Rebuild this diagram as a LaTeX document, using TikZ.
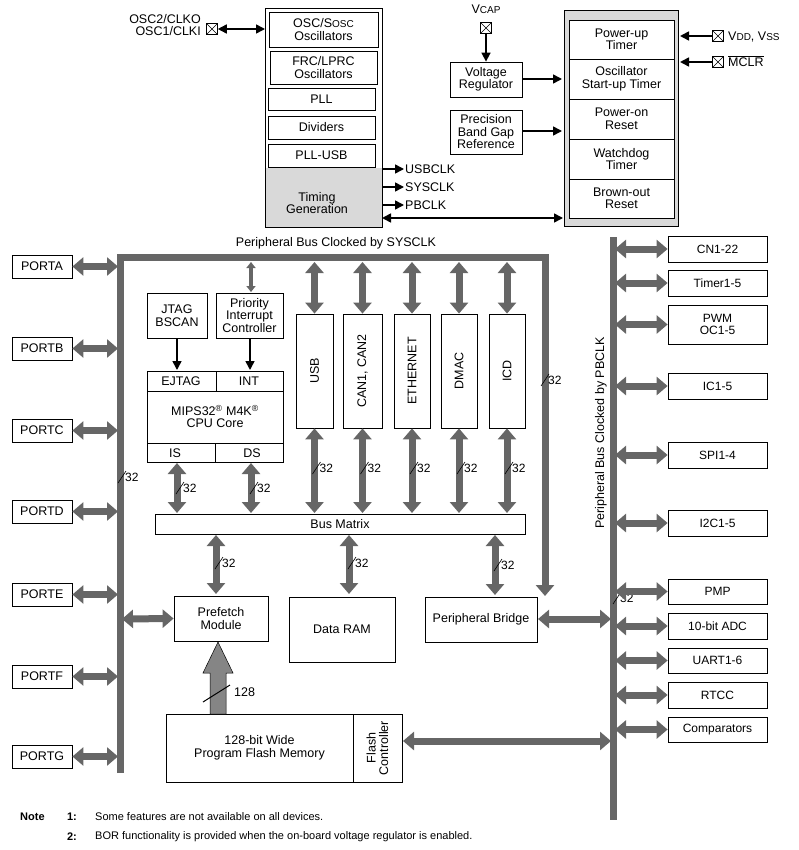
\documentclass[tikz,border=0pt]{standalone}
\usepackage{fontspec}
\setmainfont{Liberation Sans}
\usetikzlibrary{arrows.meta}
\definecolor{busg}{HTML}{666666}
\definecolor{lightg}{HTML}{D9D9D9}
\newcommand\pbox[7][]{\node[box,#1,minimum width={(#5-#3)*1pt},minimum height={(#6-#4)*1pt}] (#2) at ({(#3+#5)/2},{(#4+#6)/2}) {#7};}
\newcommand\wmark[3]{\draw[line width=0.6pt] (#1-4,#2+6) -- (#1+4,#2-6); \node[anchor=west,font=\fontsize{12}{13}\selectfont,inner sep=1pt] at (#1+2,#2) {#3};}
\begin{document}
\begin{tikzpicture}[x=1pt,y=-1pt,
  box/.style={draw,line width=0.8pt,fill=white,align=center,inner sep=0pt,font=\fontsize{12.5}{12.5}\selectfont},
  bus/.style={draw=busg,line width=7pt,{Triangle[length=11pt,width=18pt]}-{Triangle[length=11pt,width=18pt]}},
  busline/.style={draw=busg,line width=7pt},
  arr/.style={line width=1.6pt,-{Triangle[length=9pt,width=9pt]}},
  darr/.style={line width=1.6pt,{Triangle[length=9pt,width=9pt]}-{Triangle[length=9pt,width=9pt]}},
  lbl/.style={font=\fontsize{12.5}{12.5}\selectfont,inner sep=1pt},
  xb/.style={draw,line width=0.6pt,minimum size=11pt,inner sep=0pt,path picture={\draw (path picture bounding box.north west)--(path picture bounding box.south east) (path picture bounding box.north east)--(path picture bounding box.south west);}}]
\useasboundingbox (0,0) rectangle (798,850);
% ---------- clock block
\fill[lightg] (265,168) rectangle (382,227);
\draw[line width=0.8pt] (265,8) rectangle (382,227);
\pbox{osc}{269}{12}{378}{47}{OSC/S{\fontsize{10}{10}\selectfont OSC}\\Oscillators}
\pbox{frc}{270}{51}{377}{84}{FRC/LPRC\\Oscillators}
\pbox{pll}{268}{88}{375}{110}{PLL}
\pbox{div}{268}{116}{375}{139}{Dividers}
\pbox{pllusb}{268}{144}{375}{167}{PLL-USB}
\node[lbl,align=center] (timing) at (317,203) {Timing\\Generation};
\node[lbl,align=right,anchor=east] (osclbl) at (202,25) {OSC2/CLKO\\OSC1/CLKI};
\node[xb] (oscx) at (212,29) {};
\coordinate (osct) at (265,29);
\draw[darr] (oscx.east) -- (osct);
\node[lbl,anchor=west] (usbclk) at (404,169) {USBCLK};
\node[lbl,anchor=west] (sysclk) at (404,187) {SYSCLK};
\node[lbl,anchor=west] (pbclk) at (404,205) {PBCLK};
\draw[arr] (382,169) -- (usbclk.west);
\draw[arr] (382,187) -- (sysclk.west);
\draw[arr] (382,205) -- (pbclk.west);
% ---------- reset block
\fill[lightg,draw=black,line width=0.8pt] (564,10) rectangle (678,226);
\pbox{pwrt}{569}{20}{674}{59}{Power-up\\Timer}
\pbox{ost}{569}{59}{674}{99}{Oscillator\\Start-up Timer}
\pbox{por}{569}{99}{674}{139}{Power-on\\Reset}
\pbox{wdt}{569}{139}{674}{179}{Watchdog\\Timer}
\pbox{bor}{569}{179}{674}{218}{Brown-out\\Reset}
\coordinate (rl) at (563,218);
\draw[darr] (382,218) -- (rl);
\node[xb] (vddx) at (718,36) {};
\node[lbl,anchor=west] (vdd) at (727,37) {V{\fontsize{10}{10}\selectfont DD}, V{\fontsize{10}{10}\selectfont SS}};
\draw[arr] (vddx.west) -- (680,36);
\node[xb] (mclrx) at (718,62) {};
\node[lbl,anchor=west] (mclr) at (727,61) {$\overline{\mbox{MCLR}}$};
\draw[arr] (mclrx.west) -- (680,62);
\node[lbl] (vcap) at (486,9) {V{\fontsize{10}{10}\selectfont CAP}};
\node[xb] (vcapx) at (486,28) {};
\pbox{vreg}{450}{62}{522}{97}{Voltage\\Regulator}
\draw[arr] (vcapx.south) -- (vreg.north -| vcapx);
\draw[arr] (522,79) -- (562,79);
\pbox{bgap}{450}{110}{522}{154}{Precision\\Band Gap\\Reference}
\draw[arr] (522,131) -- (562,131);
% ---------- SYSCLK bus frame
\node[lbl] (sysbus) at (336,243) {Peripheral Bus Clocked by SYSCLK};
\coordinate (fa) at (120,773);
\coordinate (fb) at (120,257);
\coordinate (fc) at (545,257);
\pbox{bridge}{425}{597}{537}{642}{Peripheral Bridge}
\draw[draw=busg,line width=7pt,-{Triangle[length=11pt,width=18pt]}] (fa) -- (fb) -- (fc) -- (545,596);
\wmark{122}{477}{32}
\wmark{545}{380}{32}
% ports
\foreach \n/\y in {A/266.5,B/348.5,C/430.5,D/511.5,E/594.5,F/676.5,G/756.5}{
  \node[box,minimum width=60pt,minimum height=23pt] (port\n) at (42,\y) {PORT\n};
  \draw[bus] (port\n.east) -- (118,\y);
}
% CPU
\pbox{jtag}{147}{293}{207}{338}{JTAG\\BSCAN}
\pbox{pic}{216}{293}{283}{338}{Priority\\Interrupt\\Controller}
\pbox{cpu}{147}{371}{283}{462}{MIPS32\textsuperscript{\textregistered} M4K\textsuperscript{\textregistered}\\CPU Core}
\draw[line width=0.8pt] (147,391) -- (283,391) (216,371) -- (216,391) (147,443) -- (283,443) (215,443) -- (215,462);
\node[lbl] (ejtag) at (181,381) {EJTAG};
\node[lbl] (int) at (249,381) {INT};
\node[lbl] (is) at (175,453) {IS};
\node[lbl] (ds) at (252,453) {DS};
\draw[arr] (177,338) -- (177,370);
\draw[arr] (250,338) -- (250,370);
\draw[draw=busg,line width=3.5pt,{Triangle[length=6pt,width=9pt]}-{Triangle[length=6pt,width=9pt]}] (251,262) -- (251,292);
\pbox{bm}{155}{514}{525}{534}{Bus Matrix}
\draw[bus] (177,463) -- (177,513);
\draw[bus] (251,463) -- (251,513);
\wmark{180}{488}{32}
\wmark{254}{488}{32}
\foreach \n/\a/\b/\t in {usb/296/333/USB,can/343/382/{CAN1, CAN2},eth/394/430/ETHERNET,dmac/441/477/DMAC,icd/489/525/ICD}{
  \pgfmathsetmacro\c{(\a+\b)/2}
  \pgfmathsetmacro\d{\c+2}
  \pbox{\n}{\a}{314}{\b}{428}{}
  \node[lbl,rotate=90] at (\n) {\t};
  \draw[bus] (\c,262) -- (\n.north);
  \draw[bus] (\n.south) -- (\c,513);
  \wmark{\d}{468}{32}
}
\pbox{pref}{174}{596}{268}{641}{Prefetch\\Module}
\pbox{ram}{289}{597}{395}{662}{Data RAM}
\draw[bus] (216,535) -- (216,594);
\draw[bus] (349,535) -- (349,594);
\draw[bus] (495,535) -- (495,595);
\wmark{219}{563}{32}
\wmark{352}{563}{32}
\wmark{498}{565}{32}
\draw[bus] (122,619) -- (pref.west);
% flash
\pbox{flash}{166}{714}{353}{782}{128-bit Wide\\Program Flash Memory}
\pbox{fctl}{353}{714}{402}{782}{}
\node[lbl,rotate=90,align=center] at (fctl) {Flash\\Controller};
\filldraw[fill=busg!80!white,line width=0.5pt] (210,714) -- (210,673) -- (203,673) -- (218,642) -- (233,673) -- (226,673) -- (226,714) -- cycle;
\draw[line width=1pt] (203,702) -- (230,685);
\node[lbl,anchor=west] at (233,692) {128};
% PBCLK bus
\coordinate (pb1) at (613,237);
\coordinate (pb2) at (613,820);
\draw[busline] (pb1) -- (pb2);
\node[lbl,rotate=90] (pblbl) at (601,433) {Peripheral Bus Clocked by PBCLK};
\wmark{617}{598}{32}
\draw[bus] (538,619) -- (611,619);
\draw[bus] (403,741) -- (611,741);
\foreach \n/\a/\b/\t in {cn/236/262/CN1-22,tmr/270/296/Timer1-5,pwm/305/344/{PWM\\OC1-5},ic/373/399/IC1-5,spi/442/468/SPI1-4,iic/510/536/I2C1-5,pmp/579/604/PMP,adc/613/639/10-bit ADC,uart/648/673/UART1-6,rtcc/682/708/RTCC,cmp/717/742/Comparators}{
  \pgfmathsetmacro\c{(\a+\b)/2}
  \pbox[font=\fontsize{12}{12}\selectfont]{\n}{668}{\a}{767}{\b}{\t}
  \draw[bus] (615,\c) -- (\n.west);
}
% notes
\node[font=\bfseries\fontsize{11}{12}\selectfont,anchor=west,inner sep=0] at (20,817) {Note};
\node[font=\bfseries\fontsize{11}{12}\selectfont,anchor=east,inner sep=0] at (77,817) {1:};
\node[font=\bfseries\fontsize{11}{12}\selectfont,anchor=east,inner sep=0] at (77,837) {2:};
\node[font=\fontsize{11}{12}\selectfont,anchor=west,inner sep=0] at (95,817) {Some features are not available on all devices.};
\node[font=\fontsize{11}{12}\selectfont,anchor=west,inner sep=0] at (95,837) {BOR functionality is provided when the on-board voltage regulator is enabled.};
\end{tikzpicture}
\end{document}
